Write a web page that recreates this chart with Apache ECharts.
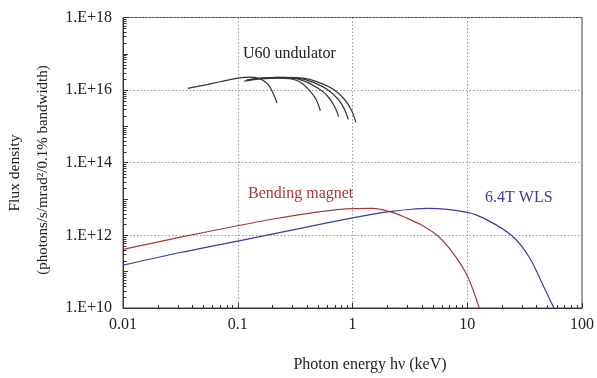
<!DOCTYPE html>
<html>
<head>
<meta charset="utf-8">
<script src="https://cdn.jsdelivr.net/npm/echarts@6/dist/echarts.min.js"></script>
<style>html,body{margin:0;padding:0;background:#fff}#c{width:597px;height:378px}</style>
</head>
<body>
<div id="c"></div>
<script>
// Photon energy (keV) and flux density values
var bmEnergy = [0.01, 0.031, 0.1, 0.187, 0.36, 0.58, 1.0, 1.47, 2.19, 2.86, 4.0, 5.56, 7.75, 10.1, 12.7];
var bmFlux   = [4.1e11, 8.8e11, 1.84e12, 2.69e12, 3.8e12, 4.68e12, 5.43e12, 5.55e12, 4.39e12, 3.16e12, 1.92e12, 9.6e11, 2.86e11, 7.2e10, 1.0e10];

var wlsEnergy = [0.01, 0.031, 0.1, 0.36, 1.0, 1.47, 2.19, 3.24, 4.55, 10, 15, 24.8, 34.5, 46.5, 56.9];
var wlsFlux   = [1.51e11, 3.32e11, 6.97e11, 1.58e12, 3.05e12, 3.8e12, 4.58e12, 5.25e12, 5.55e12, 4.31e12, 2.63e12, 9.5e11, 2.57e11, 3.8e10, 1.0e10];

var u1Energy = [0.0367, 0.05, 0.07, 0.1, 0.13, 0.15, 0.164, 0.185, 0.2, 0.22];
var u1Flux   = [1.12e16, 1.35e16, 1.70e16, 2.14e16, 2.29e16, 2.14e16, 1.91e16, 1.41e16, 9.1e15, 4.4e15];
var u2Energy = [0.114, 0.16, 0.22, 0.3, 0.36, 0.42, 0.48, 0.525];
var u2Flux   = [1.78e16, 2.04e16, 2.14e16, 2.0e16, 1.58e16, 1.0e16, 5.6e15, 2.7e15];
var u3Energy = [0.12, 0.2, 0.3, 0.4, 0.5, 0.6, 0.7, 0.757];
var u3Flux   = [1.91e16, 2.19e16, 2.14e16, 1.66e16, 1.12e16, 7.1e15, 3.5e15, 1.86e15];
var u4Energy = [0.13, 0.22, 0.33, 0.45, 0.6, 0.75, 0.85, 0.92];
var u4Flux   = [2.0e16, 2.24e16, 2.14e16, 1.66e16, 1.05e16, 5.6e15, 3.0e15, 1.55e15];
var u5Energy = [0.14, 0.25, 0.37, 0.5, 0.68, 0.85, 0.98, 1.07];
var u5Flux   = [2.04e16, 2.24e16, 2.14e16, 1.66e16, 1.05e16, 5.6e15, 2.8e15, 1.29e15];

var xTickLabels = ['0.01', '0.1', '1', '10', '100'];
var yTickLabels = ['1.E+10', '1.E+12', '1.E+14', '1.E+16', '1.E+18'];

// log-axis minor tick positions (multipliers of each decade)
var minorMultipliers = [2, 3, 4, 5, 6, 7, 8, 9];
var xDecades = [0.01, 0.1, 1, 10];
var yDecades = [1e10, 1e11, 1e12, 1e13, 1e14, 1e15, 1e16, 1e17];

var xTitle = 'Photon energy hν (keV)';
var yTitle1 = 'Flux density';
var yTitle2 = '(photons/s/mrad²/0.1% bandwidth)';
var labelU60 = 'U60 undulator';
var labelBM = 'Bending magnet';
var labelWLS = '6.4T WLS';

function pairs(xs, ys) { return xs.map(function (x, i) { return [x, ys[i]]; }); }

var FONT = '"Liberation Serif", "DejaVu Serif", serif';
var TXT = '#222';
var BM_C = '#a53a3a';
var WLS_C = '#3a3aa8';
var U_C = '#333333';
var X_MIN = 0.01, X_MAX = 100, Y_MIN = 1e10, Y_MAX = 1e18;

function lineSeries(data, color, name) {
  return {
    name: name, type: 'line', data: data, showSymbol: false, symbol: 'none',
    smooth: 0.35, lineStyle: { color: color, width: 1.2 }, xAxisIndex: 0, yAxisIndex: 0,
    silent: true, animation: false
  };
}

var tickData = [];
xDecades.forEach(function (d) { minorMultipliers.forEach(function (m) { tickData.push([d * m, Y_MIN, 0]); }); });
yDecades.forEach(function (d) { minorMultipliers.forEach(function (m) { tickData.push([X_MIN, d * m, 1]); }); });

var chart = echarts.init(document.getElementById('c'), null, { renderer: 'canvas' });
chart.setOption({
  animation: false,
  backgroundColor: '#fff',
  grid: { left: 123, right: 12, top: 17.5, bottom: 70, show: true, borderColor: '#444', borderWidth: 1, backgroundColor: 'transparent' },
  xAxis: [{
    type: 'log', logBase: 10, min: X_MIN, max: X_MAX, interval: 1,
    axisLine: { lineStyle: { color: '#333', width: 1 } },
    axisTick: { inside: true, length: 5, lineStyle: { color: '#333' } },
    minorTick: { show: false },
    splitLine: { show: true, lineStyle: { color: '#999', type: [1.5, 2], width: 1 } },
    axisLabel: {
      margin: 9, color: TXT, fontFamily: FONT, fontSize: 16,
      formatter: function (v) {
        var i = Math.round(Math.log10(v)) + 2;
        return xTickLabels[i] || '';
      }
    }
  }],
  yAxis: [{
    type: 'log', logBase: 10, min: Y_MIN, max: Y_MAX, interval: 1,
    axisLine: { show: true, lineStyle: { color: '#333', width: 1 } },
    axisTick: { inside: true, length: 5, lineStyle: { color: '#333' } },
    minorTick: { show: false },
    splitLine: { show: false },
    axisLabel: { show: false }
  }, {
    type: 'log', logBase: 10, min: Y_MIN, max: Y_MAX, interval: 2, position: 'left',
    axisLine: { show: false },
    axisTick: { show: false },
    splitLine: { show: true, lineStyle: { color: '#999', type: [1.5, 2], width: 1 } },
    axisLabel: {
      margin: 11, color: TXT, fontFamily: FONT, fontSize: 16,
      formatter: function (v) {
        var i = Math.round((Math.log10(v) - 10) / 2);
        return yTickLabels[i] || '';
      }
    }
  }],
  series: [
    {
      type: 'custom', name: 'minor ticks', xAxisIndex: 0, yAxisIndex: 0, silent: true, clip: false,
      data: tickData,
      renderItem: function (params, api) {
        var p = api.coord([api.value(0), api.value(1)]);
        var isY = api.value(2) === 1;
        var x = Math.round(p[0]) + 0.5, y = Math.round(p[1]) + 0.5;
        return {
          type: 'line',
          shape: isY ? { x1: x, y1: y, x2: x + 3, y2: y } : { x1: x, y1: y, x2: x, y2: y - 3.5 },
          style: { stroke: '#333', lineWidth: 1 }
        };
      }
    },
    lineSeries(pairs(bmEnergy, bmFlux), BM_C, 'Bending magnet'),
    lineSeries(pairs(wlsEnergy, wlsFlux), WLS_C, '6.4T WLS'),
    lineSeries(pairs(u1Energy, u1Flux), U_C, 'U60 1'),
    lineSeries(pairs(u2Energy, u2Flux), U_C, 'U60 2'),
    lineSeries(pairs(u3Energy, u3Flux), U_C, 'U60 3'),
    lineSeries(pairs(u4Energy, u4Flux), U_C, 'U60 4'),
    lineSeries(pairs(u5Energy, u5Flux), U_C, 'U60 5')
  ],
  graphic: [
    { type: 'text', left: 243, top: 46, style: { text: labelU60, font: '16px ' + FONT, fill: '#222' } },
    { type: 'text', left: 248, top: 186, style: { text: labelBM, font: '16px ' + FONT, fill: BM_C } },
    { type: 'text', left: 485, top: 190, style: { text: labelWLS, font: '16px ' + FONT, fill: WLS_C } },
    { type: 'text', x: 370, y: 365, style: { text: xTitle, font: '16px ' + FONT, fill: TXT, align: 'center', verticalAlign: 'middle' } },
    { type: 'text', x: 15, y: 173, rotation: Math.PI / 2, style: { text: yTitle1, font: '15.5px ' + FONT, fill: TXT, align: 'center', verticalAlign: 'middle' } },
    { type: 'text', x: 43, y: 170, rotation: Math.PI / 2, style: { text: yTitle2, font: '15px ' + FONT, fill: TXT, align: 'center', verticalAlign: 'middle' } }
  ]
});
</script>
</body>
</html>
